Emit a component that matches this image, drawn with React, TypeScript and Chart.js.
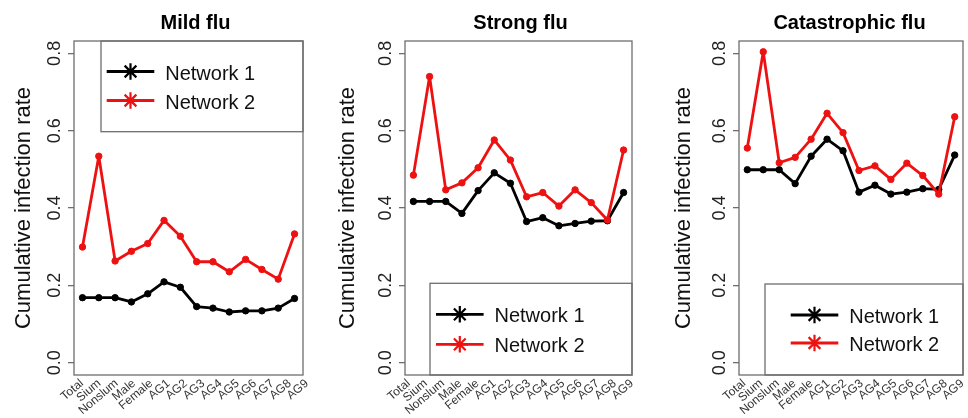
import React, { useEffect, useRef } from "react";
import { Chart, registerables } from "chart.js";

Chart.register(...registerables);

// ---------- data ----------
const categories = ["Total", "Sium", "Nonslum", "Male", "Female", "AG1", "AG2", "AG3", "AG4", "AG5", "AG6", "AG7", "AG8", "AG9"];
const yTicks = [0, 0.2, 0.4, 0.6, 0.8];
const seriesNames = ["Network 1", "Network 2"];
const panelTitles = ["Mild flu", "Strong flu", "Catastrophic flu"];
const yAxisTitle = "Cumulative infection rate";

const mildNetwork1 = [0.168, 0.168, 0.168, 0.157, 0.178, 0.209, 0.195, 0.145, 0.141, 0.131, 0.134, 0.134, 0.141, 0.166];
const mildNetwork2 = [0.299, 0.534, 0.263, 0.288, 0.308, 0.368, 0.327, 0.261, 0.261, 0.235, 0.267, 0.241, 0.216, 0.333];
const strongNetwork1 = [0.417, 0.417, 0.417, 0.386, 0.445, 0.491, 0.464, 0.365, 0.375, 0.354, 0.360, 0.366, 0.367, 0.440];
const strongNetwork2 = [0.485, 0.740, 0.447, 0.465, 0.504, 0.576, 0.524, 0.429, 0.440, 0.405, 0.447, 0.414, 0.369, 0.550];
const catNetwork1 = [0.499, 0.499, 0.499, 0.463, 0.534, 0.578, 0.548, 0.441, 0.459, 0.436, 0.441, 0.450, 0.448, 0.537];
const catNetwork2 = [0.555, 0.804, 0.517, 0.531, 0.578, 0.645, 0.595, 0.497, 0.509, 0.474, 0.516, 0.484, 0.436, 0.636];

// ---------- styles ----------
const FONT = "'Liberation Sans', Arial, Helvetica, sans-serif";
const COLORS = ["#000000", "#ee1111"];
const FRAME = "#6e6e6e";

const panels = [
  {
    title: panelTitles[0], n1: mildNetwork1, n2: mildNetwork2,
    left: 0, width: 322, chartLeft: 74, chartRight: 303, yTitlePad: 10.4, titleX: 195.5,
    labelMin: -0.462, labelMax: 12.77,
    legend: { atTop: true, boxLeft: 27, boxHeight: 90.7, inset: 5.7, rows: [30.5, 59.5] },
  },
  {
    title: panelTitles[1], n1: strongNetwork1, n2: strongNetwork2,
    left: 322, width: 323, chartLeft: 83, chartRight: 310, yTitlePad: 12.7, titleX: 198.5,
    labelMin: -0.215, labelMax: 13.0,
    legend: { atTop: false, boxLeft: 25, boxHeight: 91.7, inset: 6, rows: [31, 61] },
  },
  {
    title: panelTitles[2], n1: catNetwork1, n2: catNetwork2,
    left: 645, width: 323, chartLeft: 94, chartRight: 321, yTitlePad: 25.4, titleX: 204.5,
    labelMin: -0.311, labelMax: 13.03,
    legend: { atTop: false, boxLeft: 26, boxHeight: 91, inset: 25.7, rows: [31, 59] },
  },
];

const framePlugin = {
  id: "frame",
  beforeDatasetsDraw(chart: any) {
    const { ctx, chartArea } = chart;
    const { left, top, right, bottom } = chartArea;
    ctx.save();
    ctx.strokeStyle = FRAME;
    ctx.lineWidth = 1.3;
    ctx.strokeRect(left, top, right - left, bottom - top);
    ctx.restore();
  },
  afterDraw(chart: any, _args: any, opts: any) {
    const { ctx, chartArea } = chart;
    ctx.save();
    // panel title
    ctx.font = `bold 20px ${FONT}`;
    ctx.fillStyle = "#000";
    ctx.textAlign = "center";
    ctx.textBaseline = "alphabetic";
    ctx.fillText(opts.title, opts.titleX, 28.5);

    // legend
    const lg = opts.legend;
    const bx0 = chartArea.left + lg.boxLeft;
    const bx1 = chartArea.right;
    const by0 = lg.atTop ? chartArea.top : chartArea.bottom - lg.boxHeight;
    const by1 = lg.atTop ? chartArea.top + lg.boxHeight : chartArea.bottom;
    ctx.strokeStyle = FRAME;
    ctx.lineWidth = 1.3;
    ctx.strokeRect(bx0, by0, bx1 - bx0, by1 - by0);

    chart.data.datasets.forEach((ds: any, i: number) => {
      const y = by0 + lg.rows[i];
      const x0 = bx0 + lg.inset;
      const x1 = x0 + 47.6;
      const cx = x0 + 23.8;
      ctx.strokeStyle = ds.borderColor;
      ctx.lineWidth = 2.8;
      ctx.beginPath();
      ctx.moveTo(x0, y);
      ctx.lineTo(x1, y);
      ctx.stroke();
      // asterisk marker
      ctx.lineWidth = 2.2;
      const r = 8.3;
      ctx.beginPath();
      for (let k = 0; k < 4; k++) {
        const a = (k * Math.PI) / 4;
        ctx.moveTo(cx - r * Math.cos(a), y - r * Math.sin(a));
        ctx.lineTo(cx + r * Math.cos(a), y + r * Math.sin(a));
      }
      ctx.stroke();
      ctx.fillStyle = "#111";
      ctx.font = `20px ${FONT}`;
      ctx.textAlign = "left";
      ctx.textBaseline = "middle";
      ctx.fillText(ds.label, x0 + 58.5, y + 2.5);
    });
    ctx.restore();
  },
};

function buildConfig(p: any): any {
  const mk = (vals: number[], idx: number) => ({
    label: seriesNames[idx],
    data: vals.map((v, i) => ({ x: i, y: v })),
    borderColor: COLORS[idx],
    backgroundColor: COLORS[idx],
    pointBackgroundColor: COLORS[idx],
    pointBorderColor: COLORS[idx],
    borderWidth: 2.8,
    borderJoinStyle: "round",
    borderCapStyle: "round",
    pointRadius: 3.2,
    pointBorderWidth: 1,
    tension: 0,
    order: idx === 0 ? 1 : 0,
    xAxisID: "x",
    yAxisID: "y",
  });
  return {
    type: "line",
    data: { datasets: [mk(p.n1, 0), mk(p.n2, 1)] },
    options: {
      responsive: false,
      animation: false,
      events: [],
      layout: { padding: { left: 0, top: 41, right: p.width - p.chartRight, bottom: 0 } },
      plugins: {
        legend: { display: false },
        tooltip: { enabled: false },
        title: { display: false },
        frame: { title: p.title, titleX: p.titleX, legend: p.legend },
      },
      scales: {
        x: { type: "linear", display: false, min: -0.52, max: 13.52 },
        xl: {
          type: "linear",
          position: "bottom",
          min: p.labelMin,
          max: p.labelMax,
          afterBuildTicks: (s: any) => {
            s.ticks = categories.map((_, i) => ({ value: i }));
          },
          ticks: {
            callback: (v: any) => categories[Math.round(v)],
            minRotation: 40,
            maxRotation: 40,
            autoSkip: false,
            padding: 1.3,
            color: "#333",
            font: { size: 12, family: FONT },
          },
          grid: { display: false, drawTicks: false },
          border: { display: false },
          afterFit: (s: any) => {
            s.height = 43;
            s.paddingLeft = 0;
            s.paddingRight = 0;
          },
        },
        y: {
          type: "linear",
          position: "left",
          min: -0.032,
          max: 0.832,
          afterBuildTicks: (s: any) => {
            s.ticks = yTicks.map((v) => ({ value: v }));
          },
          ticks: {
            callback: (v: any) => Number(v).toFixed(1),
            minRotation: 90,
            maxRotation: 90,
            crossAlign: "center",
            padding: 0.5,
            color: "#222",
            font: { size: 18, family: FONT },
          },
          grid: { drawOnChartArea: false, drawTicks: true, tickLength: 6, color: FRAME, lineWidth: 1.3 },
          border: { display: false },
          title: {
            display: true,
            text: yAxisTitle,
            color: "#111",
            font: { size: 22, family: FONT },
            padding: { top: p.yTitlePad, bottom: 0 },
          },
          afterFit: (s: any) => {
            s.width = p.chartLeft;
            s.paddingTop = 0;
            s.paddingBottom = 0;
          },
        },
      },
    },
    plugins: [framePlugin],
  };
}

function Panel({ p }: { p: any }) {
  const ref = useRef<HTMLCanvasElement | null>(null);
  useEffect(() => {
    if (!ref.current) return;
    const chart = new Chart(ref.current, buildConfig(p));
    return () => chart.destroy();
  }, [p]);
  return (
    <canvas
      ref={ref}
      width={p.width}
      height={418}
      style={{ position: "absolute", left: p.left, top: 0, width: p.width, height: 418, display: "block" }}
    />
  );
}

export default function App() {
  return (
    <div style={{ position: "absolute", left: 0, top: 0, width: 968, height: 418, background: "#fff", overflow: "hidden" }}>
      {panels.map((p, i) => (
        <Panel key={i} p={p} />
      ))}
    </div>
  );
}
